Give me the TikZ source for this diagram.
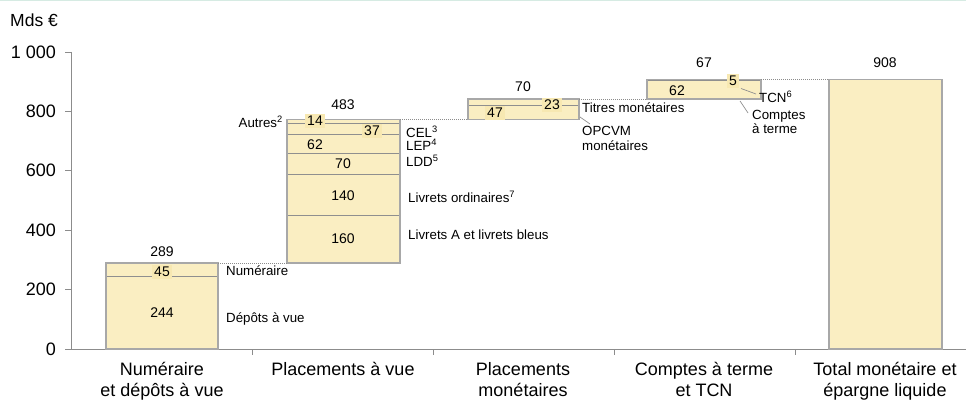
\documentclass[tikz,border=0pt]{standalone}
\usepackage{fontspec}
\setmainfont{Liberation Sans}
\definecolor{barfill}{HTML}{FAEEC2}
\definecolor{lblfill}{HTML}{F7E8B2}
\definecolor{bargray}{HTML}{A8A8A8}
\definecolor{innergray}{HTML}{8F8F8F}
\definecolor{axisgray}{HTML}{8C8C8C}
\definecolor{topline}{HTML}{D6EBE3}
\def\V#1{349-0.297*#1}
\begin{document}
\begin{tikzpicture}[x=1pt,y=-1pt,
  barline/.style={draw=bargray, line width=1.4pt},
  innerline/.style={draw=innergray, line width=0.9pt},
  dotline/.style={draw=axisgray, line width=0.7pt, dash pattern=on 1pt off 1pt},
  leader/.style={draw=innergray, line width=0.7pt},
  axisline/.style={draw=axisgray, line width=0.9pt},
  val/.style={font=\fontsize{14}{16}\selectfont, inner sep=0pt},
  valbox/.style={val, fill=lblfill, inner xsep=2.5pt, inner ysep=2.5pt},
  side/.style={font=\fontsize{13.3}{15}\selectfont, inner sep=0pt, anchor=west, align=left},
  ticklbl/.style={font=\fontsize{18}{20}\selectfont, inner sep=0pt, anchor=east},
  cat/.style={font=\fontsize{18}{21}\selectfont, inner sep=0pt, anchor=north, align=center}]
\useasboundingbox (0,0) rectangle (966,403);
\draw[topline, line width=1.5pt] (0,0.75) -- (966,0.75);

% axes
\node[font=\fontsize{17.5}{20}\selectfont, inner sep=0pt, anchor=west] (unit) at (10,20) {Mds €};
\draw[axisline] (71,52) -- (71,349) -- (966,349);
\foreach \v/\t in {0/0,200/200,400/400,600/600,800/800,1000/1 000}{
  \draw[axisline] (65,{\V{\v}}) -- (71,{\V{\v}});
  \node[ticklbl] (t\v) at (56,{\V{\v}}) {\t};
}
\foreach \x in {252.5,433.5,614,795}{
  \draw[axisline] (\x,349) -- (\x,355);
}

% bar corners
\coordinate (b1bl) at (106,{\V{0}});   \coordinate (b1tr) at (218,{\V{289}});
\coordinate (b2bl) at (287,{\V{289}}); \coordinate (b2tr) at (400,{\V{772}});
\coordinate (b3bl) at (468,{\V{772}}); \coordinate (b3tr) at (579,{\V{842}});
\coordinate (b4bl) at (647,{\V{842}}); \coordinate (b4tr) at (761,{\V{908}});
\coordinate (b5bl) at (829,{\V{0}});   \coordinate (b5tr) at (942,{\V{908}});
\coordinate (b5tl) at (829,{\V{908}});

\foreach \b in {1,...,5}{\fill[barfill] (b\b bl) rectangle (b\b tr);}

% inner lines
\draw[innerline] (106,{\V{244}}) -- (218,{\V{244}});
\foreach \v in {449,589,659,721,758}{\draw[innerline] (287,{\V{\v}}) -- (400,{\V{\v}});}
\draw[innerline] (468,{\V{819}}) -- (579,{\V{819}});
\draw[innerline] (647,{\V{904}}) -- (761,{\V{904}});

\foreach \b in {1,...,5}{\draw[barline] (b\b bl) rectangle (b\b tr);}

% dotted connectors
\draw[dotline] (b1tr) -- (b2bl);
\draw[dotline] (b2tr) -- (b3bl);
\draw[dotline] (b3tr) -- (b4bl);
\draw[dotline] (b4tr) -- (b5tl);

% bar 1 labels
\node[val] (v289) at (162,252) {289};
\node[valbox] (v45) at (162,272) {45};
\node[val] (v244) at (162,313) {244};
\node[side] (lnum) at (226,271) {Numéraire};
\node[side] (ldav) at (226,319) {Dépôts à vue};

% bar 2 labels
\node[val] (v483) at (343,105) {483};
\node[valbox] (v14) at (315,121) {14};
\node[valbox] (v37) at (372,131) {37};
\node[val] (v62a) at (315,145) {62};
\node[val] (v70a) at (343,164) {70};
\node[val] (v140) at (343,196) {140};
\node[val] (v160) at (343,239) {160};
\node[side, anchor=east] (lautres) at (283,122) {Autres\textsuperscript{2}};
\node[side] (lcel) at (406,132) {CEL\textsuperscript{3}};
\node[side] (llep) at (406,145) {LEP\textsuperscript{4}};
\node[side] (lldd) at (406,161) {LDD\textsuperscript{5}};
\node[side] (lliv) at (408,197) {Livrets ordinaires\textsuperscript{7}};
\node[side] (llab) at (408,235) {Livrets A et livrets bleus};

% bar 3 labels
\node[val] (v70b) at (523,87) {70};
\node[valbox] (v23) at (552,105) {23};
\node[valbox] (v47) at (495,113) {47};
\node[side] (ltit) at (582,108) {Titres monétaires};
\node[side, font=\fontsize{13.3}{15.5}\selectfont] (lopc) at (582,138.5) {OPCVM\\monétaires};
\coordinate (o1) at (580,117); \coordinate (o2) at (590,124);
\draw[leader] (o1) -- (o2);

% bar 4 labels
\node[val] (v67) at (704,63) {67};
\node[val] (v62b) at (677,91) {62};
\node[valbox] (v5) at (733,81) {5};
\node[side] (ltcn) at (759,97) {TCN\textsuperscript{6}};
\node[side, font=\fontsize{13.3}{14.5}\selectfont] (lcat) at (752,122) {Comptes\\à terme};
\coordinate (c1) at (741,88.5); \coordinate (c2) at (756,94);
\draw[leader] (c1) -- (c2);
\coordinate (c3) at (740,101); \coordinate (c4) at (748,113);
\draw[leader] (c3) -- (c4);

% bar 5 label
\node[val] (v908) at (885,63) {908};

% categories
\node[cat] (k1) at (162,362) {Numéraire\\et dépôts à vue};
\node[cat] (k2) at (343,362) {Placements à vue};
\node[cat] (k3) at (523,362) {Placements\\monétaires};
\node[cat] (k4) at (704,362) {Comptes à terme\\et TCN};
\node[cat] (k5) at (885,362) {Total monétaire et\\épargne liquide};
\end{tikzpicture}
\end{document}
